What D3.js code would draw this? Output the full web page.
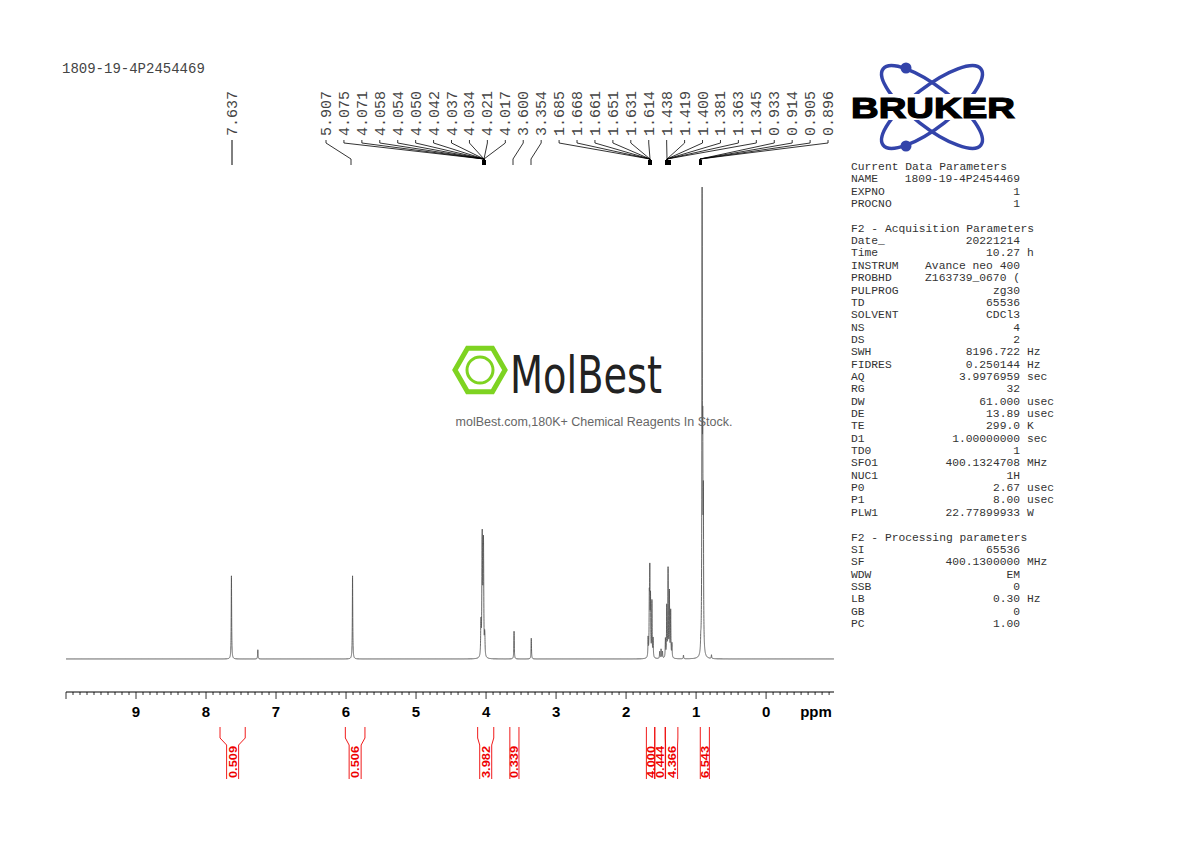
<!DOCTYPE html>
<html><head><meta charset="utf-8">
<script src="https://cdn.jsdelivr.net/npm/d3@7"></script>
<style>body{margin:0;background:#fff}svg{display:block}</style>
</head><body><svg id="c" width="1190" height="842"></svg>
<script>
// ---------- data ----------
const peakPpm = [7.637,7.26,5.907,4.075,4.071,4.058,4.054,4.050,4.042,4.037,4.034,4.021,4.017,3.600,3.354,
 1.685,1.668,1.661,1.651,1.631,1.614,1.52,1.50,1.48,1.438,1.419,1.400,1.381,1.363,1.345,0.933,0.914,0.905,0.896,1.18,0.78];
const peakHeight = [18,2,18,4,5,15,16,7,15,16,7,3,3,6,4.5,
 4,11,17,12,12,4,1.5,2,1.5,4,11,19,14,10,3,2,96,38,30,0.8,0.8];
const labelValues = ["7.637","5.907","4.075","4.071","4.058","4.054","4.050","4.042","4.037","4.034","4.021","4.017","3.600","3.354",
 "1.685","1.668","1.661","1.651","1.631","1.614","1.438","1.419","1.400","1.381","1.363","1.345","0.933","0.914","0.905","0.896"];
const axisTicks = [9,8,7,6,5,4,3,2,1,0];
const integralFrom = [7.80,6.01,4.12,3.66,1.71,1.59,1.44,0.94];
const integralTo   = [7.44,5.73,3.89,3.53,1.59,1.44,1.26,0.81];
const integralValues = ["0.509","0.506","3.982","0.339","4.000","0.444","4.366","6.543"];
const paramRows = [
 ["Current Data Parameters","",""],["NAME","1809-19-4P2454469",""],["EXPNO","1",""],["PROCNO","1",""],["","",""],
 ["F2 - Acquisition Parameters","",""],["Date_","20221214",""],["Time","10.27","h"],["INSTRUM","Avance neo 400",""],
 ["PROBHD","Z163739_0670 (",""],["PULPROG","zg30",""],["TD","65536",""],["SOLVENT","CDCl3",""],["NS","4",""],["DS","2",""],
 ["SWH","8196.722","Hz"],["FIDRES","0.250144","Hz"],["AQ","3.9976959","sec"],["RG","32",""],["DW","61.000","usec"],
 ["DE","13.89","usec"],["TE","299.0","K"],["D1","1.00000000","sec"],["TD0","1",""],["SFO1","400.1324708","MHz"],
 ["NUC1","1H",""],["P0","2.67","usec"],["P1","8.00","usec"],["PLW1","22.77899933","W"],["","",""],
 ["F2 - Processing parameters","",""],["SI","65536",""],["SF","400.1300000","MHz"],["WDW","EM",""],["SSB","0",""],
 ["LB","0.30","Hz"],["GB","0",""],["PC","1.00",""]];

// ---------- chart ----------
const svg = d3.select("#c");
const x = d3.scaleLinear().domain([10,-0.97]).range([66,834]);
const y = d3.scaleLinear().domain([0,100]).range([659,197]);
const mono = "'Liberation Mono','DejaVu Sans Mono',monospace";

// spectrum
const w = 0.0035;
const pts = [];
for (let p = 10; p >= -0.97; p -= 0.0005) {
  let s = 0;
  for (let i = 0; i < peakPpm.length; i++) { const d = (p-peakPpm[i])/w; s += peakHeight[i]/(1+d*d); }
  pts.push([p,s]);
}
svg.append("path").datum(pts).attr("fill","none").attr("stroke","#555").attr("stroke-width",0.9)
  .attr("d", d3.line().x(d=>x(d[0])).y(d=>y(d[1])));

// axis
const ax = svg.append("g").attr("transform","translate(0,692)");
ax.append("line").attr("x1",66).attr("x2",834).attr("stroke","#000");
const minor = d3.range(-9,101).map(i=>i/10).filter(v=>v<=10);
ax.selectAll(".mt").data(minor).join("line").attr("x1",d=>x(d)).attr("x2",d=>x(d)).attr("y1",0)
  .attr("y2",d=>Math.abs(d-Math.round(d))<1e-6?7:3).attr("stroke","#000").attr("stroke-width",0.8);
ax.selectAll(".tl").data(axisTicks).join("text").attr("x",d=>x(d)).attr("y",25).attr("text-anchor","middle")
  .attr("font-family","Liberation Sans,Arial,sans-serif").attr("font-weight","bold").attr("font-size",15).text(d=>d);
ax.append("text").attr("x",816).attr("y",25).attr("text-anchor","middle").attr("font-family","Liberation Sans,Arial")
  .attr("font-weight","bold").attr("font-size",15).text("ppm");

// integrals
const ig = svg.append("g").attr("stroke","#e00").attr("fill","none").attr("stroke-width",0.9);
integralFrom.forEach((f,i)=>{
  const x1=x(f), x2=x(integralTo[i]), cx=(x1+x2)/2;
  const h=Math.min(6,(x2-x1)/2);
  ig.append("path").attr("d",`M${x1},727 V738 L${cx-h},745 V779`);
  ig.append("path").attr("d",`M${x2},727 V738 L${cx+h},745 V779`);
  svg.append("text").attr("transform",`translate(${cx+4},778) rotate(-90)`).attr("fill","#e00")
    .attr("font-family","Liberation Sans,Arial").attr("font-weight","bold")
    .attr("font-size",11).attr("textLength",32).attr("lengthAdjust","spacingAndGlyphs").text(integralValues[i]);
});

// peak labels
const lab = svg.append("g");
const targets = [7.637,5.907].concat(Array(10).fill(4.04),[3.60,3.354],Array(6).fill(1.64),Array(6).fill(1.40),Array(4).fill(0.91));
const tx0 = {4.04:484,1.64:650,1.40:667,0.91:700};
labelValues.forEach((v,i)=>{
  const lx = i===0?232:326+(i-1)*17.93;
  lab.append("text").attr("transform",`translate(${lx+5},136) rotate(-90)`).attr("font-family",mono)
    .attr("font-size",15).attr("fill","#444").text(v);
  let px = tx0[targets[i]] || x(targets[i]);
  if (i===0) { lab.append("line").attr("x1",lx).attr("x2",lx).attr("y1",140).attr("y2",165).attr("stroke","#000"); return; }
  if (i===1) px = 351; if (v==="3.600") px=513; if (v==="3.354") px=531;
  lab.append("path").attr("fill","none").attr("stroke","#000").attr("stroke-width",0.8)
    .attr("d",`M${lx},140 V143 L${px},159 V165`);
});
[[482,486],[648,652],[665,671],[699,702]].forEach(r=>lab.append("rect").attr("x",r[0]).attr("y",160).attr("width",r[1]-r[0]).attr("height",5).attr("fill","#000"));

// title
svg.append("text").attr("x",62).attr("y",73).attr("font-family",mono).attr("font-size",14).attr("fill","#444").text("1809-19-4P2454469");

// parameters
const pg = svg.append("g").attr("font-family",mono).attr("font-size",11.3).attr("fill","#333");
paramRows.forEach((r,i)=>{
  const yy = 170 + i*12.35;
  pg.append("text").attr("x",851).attr("y",yy).text(r[0]);
  if (r[1]) pg.append("text").attr("x",1020).attr("y",yy).attr("text-anchor","end").text(r[1]);
  if (r[2]) pg.append("text").attr("x",1027).attr("y",yy).text(r[2]);
});

// Bruker logo
const bl = svg.append("g");
[38,-38].forEach(a=>bl.append("ellipse").attr("cx",932).attr("cy",107).attr("rx",62).attr("ry",20)
  .attr("transform",`rotate(${a},932,107)`).attr("fill","none").attr("stroke","#3344aa").attr("stroke-width",3.5));
bl.append("circle").attr("cx",906).attr("cy",68).attr("r",5.5).attr("fill","#3344aa");
bl.append("circle").attr("cx",906).attr("cy",146).attr("r",5.5).attr("fill","#3344aa");
bl.append("rect").attr("x",848).attr("y",94).attr("width",170).attr("height",26).attr("fill","#fff");
bl.append("text").attr("x",851).attr("y",118).attr("font-family","Liberation Sans,Arial")
  .attr("font-weight","900").attr("font-size",30).attr("textLength",164).attr("lengthAdjust","spacingAndGlyphs")
  .attr("stroke","#000").attr("stroke-width",1.2).text("BRUKER");

// MolBest watermark
const wm = svg.append("g");
const hex = d3.range(6).map(k=>[480+25*Math.cos(Math.PI/3*k), 370+25*Math.sin(Math.PI/3*k)]);
wm.append("polygon").attr("points",hex.join(" ")).attr("fill","none").attr("stroke","#7ed321").attr("stroke-width",5);
wm.append("circle").attr("cx",480).attr("cy",370).attr("r",13).attr("fill","none").attr("stroke","#7ed321").attr("stroke-width",3);
wm.append("text").attr("x",510).attr("y",393).attr("font-family","'Liberation Sans Narrow','DejaVu Sans Condensed',sans-serif")
  .attr("font-size",52).attr("textLength",152).attr("lengthAdjust","spacingAndGlyphs").attr("fill","#222").text("MolBest");
wm.append("text").attr("x",594).attr("y",426).attr("text-anchor","middle").attr("font-family","Liberation Sans,Arial")
  .attr("font-size",12.5).attr("fill","#666").text("molBest.com,180K+ Chemical Reagents In Stock.");
</script></body></html>
